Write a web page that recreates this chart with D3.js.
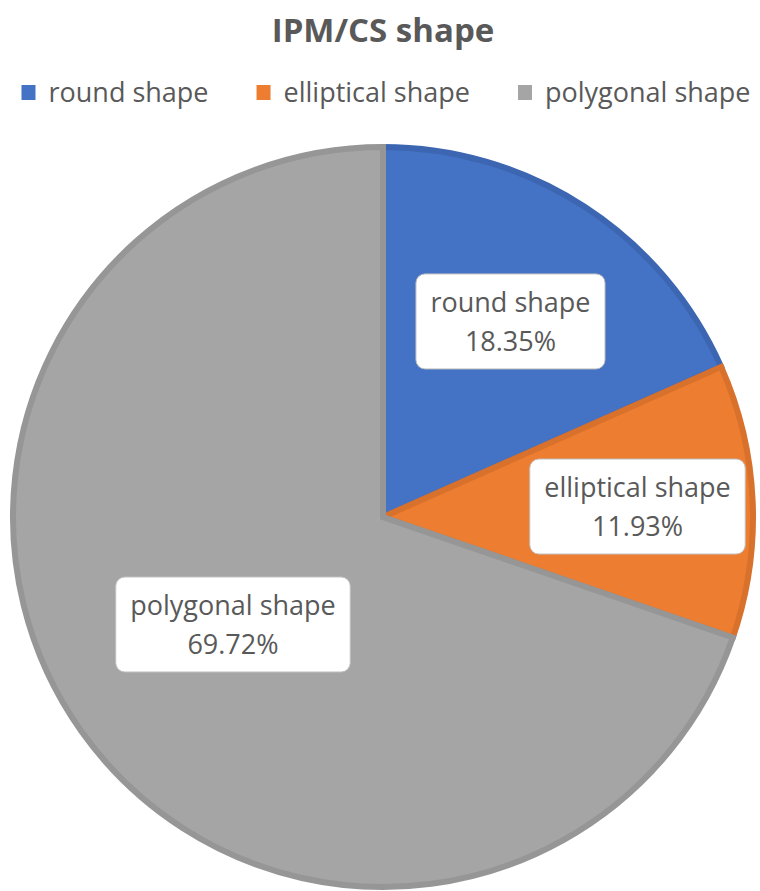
<!DOCTYPE html>
<html>
    <head>
        <meta charset="utf-8">
        <title>IPM/CS shape</title>
        <script src="https://d3js.org/d3.v7.min.js"></script>
    </head>
    <style>
        body { margin: 0; background: #fff; }
        text { font-family: "Open Sans", sans-serif; fill: #595959; }
    </style>
    <body>

        <div id="my_dataviz"></div>

        <script>

            // data
            var categories = ["round shape", "elliptical shape", "polygonal shape"];
            var values = [18.35, 11.93, 69.72];
            var valueLabels = ["18.35%", "11.93%", "69.72%"];

            // look
            var fills = ["#4472C4", "#ED7D31", "#A5A5A5"];
            var borders = ["#3C66B2", "#D8712B", "#969696"];
            var labelRadius = [0.627, 0.683, 0.494];   // where the label boxes sit, as share of radius

            var width = 760, height = 891;
            var cx = 383, cy = 517, R = 373, border = 6;

            var svg = d3.select("#my_dataviz")
                .append("svg")
                    .attr("width", width)
                    .attr("height", height);

            // title
            svg.append("text")
                .attr("x", cx)
                .attr("y", 42)
                .attr("text-anchor", "middle")
                .style("font-size", "33px")
                .style("font-weight", "bold")
                .text("IPM/CS shape");

            // legend, centred on the page
            var legend = svg.append("g");
            var item = legend.selectAll("g")
                .data(categories)
                .enter().append("g");
            item.append("rect")
                .attr("width", 14)
                .attr("height", 15)
                .attr("y", -17)
                .attr("fill", function(d, i) { return fills[i]; });
            item.append("text")
                .attr("x", 27)
                .style("font-size", "27px")
                .text(function(d) { return d; });
            var xPos = 0, gap = 48;
            item.each(function() {
                var w = d3.select(this).select("text").node().getComputedTextLength();
                d3.select(this).attr("transform", "translate(" + xPos + ",0)");
                xPos += 27 + w + gap;
            });
            var legendW = xPos - gap;
            legend.attr("transform", "translate(" + ((width - legendW) / 2 + 6) + ",102)");

            // pie
            var pie = d3.pie().sort(null).value(function(d) { return d; });
            var arcs = pie(values);
            var arc = d3.arc().innerRadius(0).outerRadius(R - border / 2);

            var g = svg.append("g")
                .attr("transform", "translate(" + cx + "," + cy + ")");

            g.selectAll("path")
                .data(arcs)
                .enter().append("path")
                .attr("d", arc)
                .attr("fill", function(d, i) { return fills[i]; })
                .attr("stroke", function(d, i) { return borders[i]; })
                .attr("stroke-width", border)
                .attr("stroke-linejoin", "miter");

            // data labels in rounded white boxes
            var labels = g.selectAll("g.lab")
                .data(arcs)
                .enter().append("g")
                .attr("class", "lab")
                .attr("transform", function(d, i) {
                    var r = R * labelRadius[i];
                    var c = d3.arc().innerRadius(r).outerRadius(r).centroid(d);
                    return "translate(" + c[0] + "," + c[1] + ")";
                });

            labels.each(function(d, i) {
                var lab = d3.select(this);
                var box = lab.append("rect");
                var t = lab.append("text")
                    .attr("text-anchor", "middle")
                    .style("font-size", "27px");
                t.append("tspan").attr("x", 0).attr("y", -9).text(categories[i]);
                t.append("tspan").attr("x", 0).attr("y", 30).text(valueLabels[i]);
                var w = t.node().getBBox().width + 29;
                box.attr("x", -w / 2)
                    .attr("y", -47)
                    .attr("width", w)
                    .attr("height", 95)
                    .attr("rx", 9)
                    .attr("fill", "#fff")
                    .attr("stroke", "#BFBFBF")
                    .attr("stroke-width", 1);
            });

        </script>
    </body>
</html>
